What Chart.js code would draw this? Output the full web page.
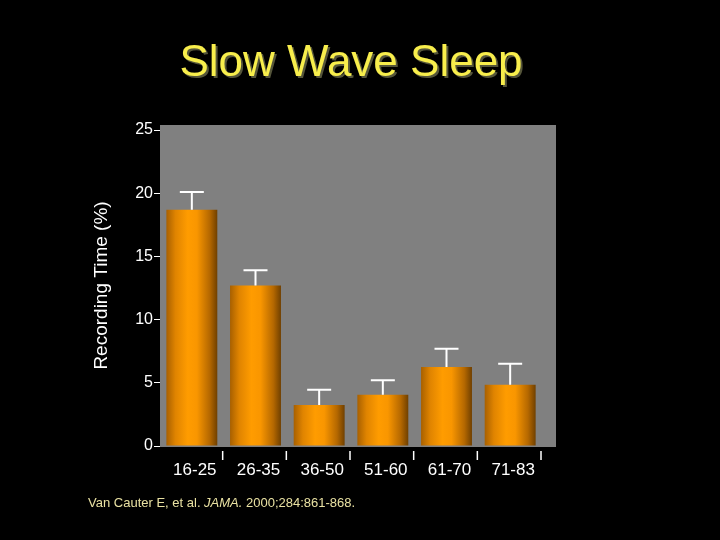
<!DOCTYPE html>
<html>
<head>
<meta charset="utf-8">
<script src="https://cdn.jsdelivr.net/npm/chart.js@4/dist/chart.umd.min.js"></script>
<style>
  html, body { margin: 0; padding: 0; background: #000; }
  #wrap { position: relative; width: 720px; height: 540px; overflow: hidden; }
  #title {
    position: absolute; left: -9px; width: 720px; top: 36px; text-align: center;
    font-family: "Liberation Sans", Arial, sans-serif; font-size: 44px; line-height: 50px;
    color: #f8ee4c; text-shadow: 2px 2px 0 #55553a;
  }
  #note {
    position: absolute; left: 88px; top: 495px;
    font-family: "Liberation Sans", Arial, sans-serif; font-size: 13px; color: #e9e1a2;
  }
</style>
</head>
<body>
<div id="wrap">
  <canvas id="sleepChart" width="720" height="540"></canvas>
  <div id="title">Slow Wave Sleep</div>
  <div id="note">Van Cauter E, et al. <i>JAMA.</i> 2000;284:861-868.</div>
</div>
<script>
const ageGroups = ["16-25", "26-35", "36-50", "51-60", "61-70", "71-83"];
const swsPercent = [18.7, 12.7, 3.25, 4.05, 6.25, 4.85];
const errorTop = [20.1, 13.9, 4.45, 5.2, 7.7, 6.5];
const yTicks = [0, 5, 10, 15, 20, 25];

function barGradient(ctx) {
  const chart = ctx.chart;
  const xs = chart.scales.x;
  if (!chart.chartArea || !xs) return "#ff9900";
  const catW = (xs.right - xs.left) / ageGroups.length;
  const w = catW * 0.8;
  const cx = xs.getPixelForValue(ctx.dataIndex);
  const g = chart.ctx.createLinearGradient(cx - w / 2, 0, cx + w / 2, 0);
  g.addColorStop(0, "#a86000");
  g.addColorStop(0.18, "#e08400");
  g.addColorStop(0.42, "#ff9c00");
  g.addColorStop(0.6, "#f99600");
  g.addColorStop(0.85, "#b56800");
  g.addColorStop(1, "#704000");
  return g;
}

// gray plot background, a bit wider than the categories
const plotBackground = {
  id: "plotBackground",
  beforeDatasetsDraw(chart) {
    const { ctx, chartArea } = chart;
    ctx.save();
    ctx.fillStyle = "#808080";
    ctx.fillRect(chartArea.left, chartArea.top, chartArea.right - chartArea.left + 14, chartArea.bottom - chartArea.top + 1);
    ctx.restore();
  }
};

// error bars and x tick marks
const extras = {
  id: "extras",
  afterDatasetsDraw(chart) {
    const { ctx, scales } = chart;
    const xs = scales.x, ys = scales.y;
    const catW = (xs.right - xs.left) / ageGroups.length;
    ctx.save();
    ctx.strokeStyle = "#ffffff";
    ctx.lineWidth = 2;
    errorTop.forEach((v, i) => {
      const x = xs.getPixelForValue(i);
      const y0 = ys.getPixelForValue(swsPercent[i]);
      const y1 = ys.getPixelForValue(v);
      ctx.beginPath();
      ctx.moveTo(x, y0);
      ctx.lineTo(x, y1);
      ctx.moveTo(x - 12, y1);
      ctx.lineTo(x + 12, y1);
      ctx.stroke();
    });
    ctx.lineWidth = 1.5;
    ageGroups.forEach((_, i) => {
      const x = xs.getPixelForValue(i) + catW / 2 - 1;
      ctx.beginPath();
      ctx.moveTo(x, xs.top + 5);
      ctx.lineTo(x, xs.top + 14);
      ctx.stroke();
    });
    ctx.restore();
  }
};

new Chart(document.getElementById("sleepChart"), {
  type: "bar",
  data: {
    labels: ageGroups,
    datasets: [{
      data: swsPercent,
      backgroundColor: barGradient,
      borderWidth: 0,
      barPercentage: 0.8,
      categoryPercentage: 1.0
    }]
  },
  options: {
    responsive: false,
    animation: false,
    layout: { padding: { left: 90, right: 178, top: 125, bottom: 54 } },
    plugins: { legend: { display: false }, tooltip: { enabled: false }, title: { display: false } },
    scales: {
      x: {
        grid: { display: false },
        border: { display: false },
        ticks: {
          color: "#ffffff",
          padding: 6,
          labelOffset: 3,
          font: { family: "Liberation Sans", size: 17 }
        },
        afterFit(scale) { scale.height = 40; }
      },
      y: {
        min: 0,
        max: 25.4,
        afterBuildTicks(scale) { scale.ticks = yTicks.map(v => ({ value: v })); },
        afterFit(scale) { scale.width = 70; },
        grid: { drawOnChartArea: false, color: "#ffffff", tickLength: 6 },
        border: { display: true, color: "#5a5a5a" },
        ticks: {
          color: "#ffffff",
          padding: 1,
          font: { family: "Liberation Sans", size: 16 }
        },
        title: {
          display: true,
          text: "Recording Time (%)",
          color: "#ffffff",
          font: { family: "Liberation Sans", size: 19 },
          padding: { top: 0, bottom: 0 }
        }
      }
    }
  },
  plugins: [plotBackground, extras]
});
</script>
</body>
</html>
